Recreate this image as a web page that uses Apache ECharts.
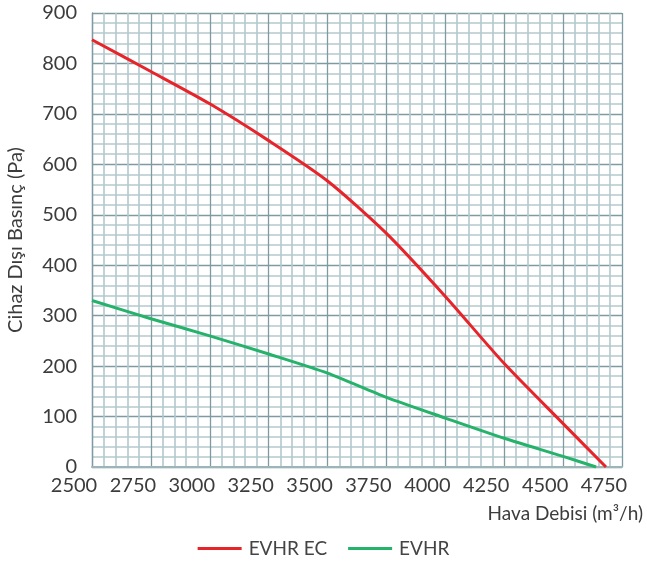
<!DOCTYPE html>
<html>
<head>
<meta charset="utf-8">
<script src="https://cdn.jsdelivr.net/npm/echarts@6/dist/echarts.min.js"></script>
<style>
  html, body { margin: 0; padding: 0; background: #fff; }
  #chart { width: 647px; height: 569px; }
</style>
</head>
<body>
<div id="chart"></div>
<script>
// Air flow (m³/h) vs external static pressure (Pa)
const flowEVHREC = [2500, 2750, 3000, 3250, 3500, 3750, 4000, 4250, 4500, 4682];
const pressEVHREC = [847, 784, 720, 647, 567, 463, 338, 205, 86, 0];
const flowEVHR = [2500, 2750, 3000, 3250, 3500, 3750, 4000, 4250, 4500, 4640];
const pressEVHR = [330, 294, 260, 224, 186, 138, 97, 57, 21, 0];
const seriesNames = ['EVHR EC', 'EVHR'];
const xTitle = 'Hava Debisi (m³/h)';
const yTitle = 'Cihaz Dışı Basınç (Pa)';

const pairs = (xs, ys) => xs.map((x, i) => [x, ys[i]]);
const font = 'Lato, "Open Sans", sans-serif';
const textColor = '#3c3c3c';
const majorGrid = '#7f9aa0';
const minorGrid = '#b3c8cd';

const chart = echarts.init(document.getElementById('chart'), null, { renderer: 'canvas' });
chart.setOption({
  animation: false,
  backgroundColor: '#fff',
  grid: {
    left: 92, top: 13, right: 25, bottom: 102,
    containLabel: false, outerBoundsMode: 'none'
  },
  xAxis: {
    type: 'value',
    min: 2500, max: 4750, interval: 250,
    name: xTitle,
    nameLocation: 'end',
    nameGap: 21,
    nameTextStyle: {
      fontFamily: font, fontSize: 19, color: textColor,
      align: 'right', verticalAlign: 'top', padding: [37, 0, 0, 0]
    },
    axisLine: { show: true, lineStyle: { color: '#9db4b9', width: 2 } },
    axisTick: { show: false },
    axisLabel: {
      fontFamily: font, fontSize: 20, color: textColor, margin: 9,
      padding: [0, 36, 0, 0],
      formatter: v => String(v)
    },
    splitLine: { show: true, lineStyle: { color: majorGrid, width: 1.3 } },
    minorTick: { show: false, splitNumber: 5 },
    minorSplitLine: { show: true, lineStyle: { color: minorGrid, width: 1.6 } }
  },
  yAxis: {
    type: 'value',
    min: 0, max: 900, interval: 100,
    name: yTitle,
    nameLocation: 'middle',
    nameGap: 66,
    nameRotate: 90,
    nameTextStyle: { fontFamily: font, fontSize: 20, color: textColor },
    axisLine: { show: true, lineStyle: { color: majorGrid, width: 1.3 } },
    axisTick: { show: false },
    axisLabel: {
      fontFamily: font, fontSize: 20, color: textColor, margin: 15,
      formatter: v => String(v)
    },
    splitLine: { show: true, lineStyle: { color: majorGrid, width: 1.3 } },
    minorTick: { show: false, splitNumber: 5 },
    minorSplitLine: { show: true, lineStyle: { color: minorGrid, width: 1.6 } }
  },
  legend: {
    bottom: 6,
    left: 'center',
    icon: 'rect',
    itemWidth: 44,
    itemHeight: 3,
    itemGap: 21,
    textStyle: { fontFamily: font, fontSize: 19, color: '#444', padding: [0, 0, 0, 2] },
    data: seriesNames
  },
  series: [
    {
      name: seriesNames[0], type: 'line', data: pairs(flowEVHREC, pressEVHREC),
      symbol: 'none', smooth: 0.25,
      lineStyle: { color: '#e8242b', width: 3 }, itemStyle: { color: '#e8242b' }
    },
    {
      name: seriesNames[1], type: 'line', data: pairs(flowEVHR, pressEVHR),
      symbol: 'none', smooth: 0.25,
      lineStyle: { color: '#25b26b', width: 3 }, itemStyle: { color: '#25b26b' }
    }
  ]
});
</script>
</body>
</html>
